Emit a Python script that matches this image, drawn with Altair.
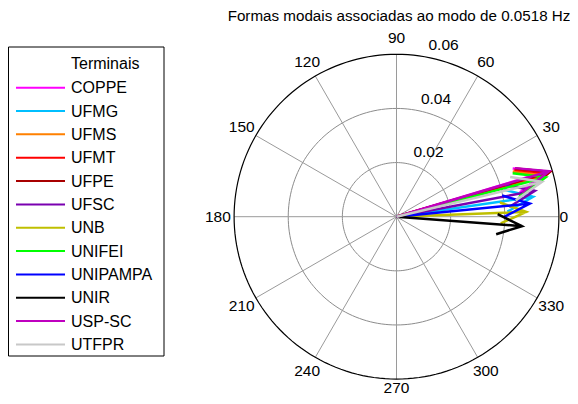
import altair as alt
import numpy as np
import pandas as pd

# ---------------- data ----------------
names = ["COPPE", "UFMG", "UFMS", "UFMT", "UFPE", "UFSC", "UNB", "UNIFEI",
         "UNIPAMPA", "UNIR", "USP-SC", "UTFPR"]
colors = ["#ff00ff", "#00bfff", "#ff8000", "#ff0000", "#a80000", "#7a00b0",
          "#bfbf00", "#00ff00", "#0000ff", "#000000", "#bf00bf", "#c8c8c8"]
magnitudes = [0.0578, 0.0510, 0.0573, 0.0583, 0.0590, 0.0520, 0.0480, 0.0570,
              0.0495, 0.0465, 0.0588, 0.0553]
angles_deg = [16.8, 8.3, 15.5, 16.0, 16.3, 10.6, 2.1, 14.8, 5.6, -4.3, 16.6, 13.5]
angle_ticks = [0, 30, 60, 90, 120, 150, 180, 210, 240, 270, 300, 330]
ring_values = [0.02, 0.04, 0.06]
ring_labels = ["0.02", "0.04", "0.06"]
title_text = "Formas modais associadas ao modo de 0.0518 Hz"
legend_title = "Terminais"

FONT = "Liberation Sans"
RMAX = ring_values[-1]

# ---------------- derived tables ----------------
rows = []
for n, m, a in zip(names, magnitudes, angles_deg):
    z = m * np.exp(1j * np.deg2rad(a))
    pts = [0, z, z * (0.8 + 0.08j), z, z * (0.8 - 0.08j)]
    for k, p in enumerate(pts):
        rows.append({"name": n, "k": k, "x": p.real, "y": p.imag})
arrows = pd.DataFrame(rows)

ring_rows = []
for r in ring_values:
    for k, t in enumerate(np.linspace(0, 2 * np.pi, 181)):
        ring_rows.append({"r": r, "k": k, "x": r * np.cos(t), "y": r * np.sin(t)})
rings = pd.DataFrame(ring_rows)
inner_rings = rings[rings.r < RMAX]
outer_ring = rings[rings.r == RMAX]

spokes = pd.DataFrame({
    "x": [RMAX * np.cos(np.deg2rad(a)) for a in angle_ticks[:6]],
    "y": [RMAX * np.sin(np.deg2rad(a)) for a in angle_ticks[:6]],
    "x2": [-RMAX * np.cos(np.deg2rad(a)) for a in angle_ticks[:6]],
    "y2": [-RMAX * np.sin(np.deg2rad(a)) for a in angle_ticks[:6]],
})

tick_df = pd.DataFrame({
    "label": [str(a) for a in angle_ticks],
    "x": [1.1 * RMAX * np.cos(np.deg2rad(a)) for a in angle_ticks],
    "y": [1.1 * RMAX * np.sin(np.deg2rad(a)) for a in angle_ticks],
})
tick_main = tick_df[~tick_df.label.isin(["0", "270"])]
tick_zero = tick_df[tick_df.label == "0"]
tick_bottom = tick_df[tick_df.label == "270"]

rlab_df = pd.DataFrame({
    "label": ring_labels,
    "x": [(r + RMAX / 60) * np.cos(np.deg2rad(82)) for r in ring_values],
    "y": [(r + RMAX / 60) * np.sin(np.deg2rad(82)) for r in ring_values],
})

legend_df = pd.DataFrame({"name": names, "color": colors})
one = pd.DataFrame({"t": [title_text], "lt": [legend_title]})

# ---------------- scales ----------------
xs = alt.Scale(domain=[-RMAX, RMAX], range=[226.1, 550.9], nice=False, zero=False)
ys = alt.Scale(domain=[-RMAX, RMAX], range=[371.1, 46.3], nice=False, zero=False)
X = lambda f="x": alt.X(f"{f}:Q", scale=xs, axis=None)
Y = lambda f="y": alt.Y(f"{f}:Q", scale=ys, axis=None)
cscale = alt.Scale(domain=names, range=colors)
tstyle = dict(font=FONT, fontSize=15.5, color="#000000")

inner = alt.Chart(inner_rings).mark_line(color="#8c8c8c", strokeWidth=1).encode(
    x=X(), y=Y(), detail="r:N", order="k:Q")
outer = alt.Chart(outer_ring).mark_line(color="#000000", strokeWidth=1.2).encode(
    x=X(), y=Y(), detail="r:N", order="k:Q")
spk = alt.Chart(spokes).mark_rule(color="#9a9a9a", strokeWidth=1).encode(
    x=X(), y=Y(), x2="x2:Q", y2="y2:Q")
ticks = alt.Chart(tick_main).mark_text(align="center", baseline="middle",
                                       **tstyle).encode(
    x=X(), y=Y(), text="label:N")
ticks_z = alt.Chart(tick_zero).mark_text(align="right", baseline="middle",
                                         dx=-7, **tstyle).encode(
    x=X(), y=Y(), text="label:N")
ticks_b = alt.Chart(tick_bottom).mark_text(align="center", baseline="middle",
                                           dy=-7.5, **tstyle).encode(
    x=X(), y=Y(), text="label:N")
rlabs = alt.Chart(rlab_df).mark_text(align="left", baseline="alphabetic",
                                     dx=9, dy=-3, **tstyle).encode(
    x=X(), y=Y(), text="label:N")
arr = alt.Chart(arrows).mark_line(strokeWidth=2.5, strokeJoin="miter",
                                  strokeCap="butt").encode(
    x=X(), y=Y(), order="k:Q",
    color=alt.Color("name:N", scale=cscale, legend=None))

title = alt.Chart(one).mark_text(font=FONT, fontSize=15.2, color="#000000",
                                 align="center", baseline="alphabetic").encode(
    x=alt.value(391), y=alt.value(12.6), text="t:N")

# legend
ls = alt.Scale(type="point", domain=names, range=[79.7, 336.4], padding=0)
box = alt.Chart(one).mark_rect(fillOpacity=0, stroke="#000000", strokeWidth=1).encode(
    x=alt.value(0.5), x2=alt.value(156), y=alt.value(39), y2=alt.value(348))
lrule = alt.Chart(legend_df).mark_rule(strokeWidth=2).encode(
    y=alt.Y("name:N", scale=ls, axis=None),
    x=alt.value(8), x2=alt.value(57),
    color=alt.Color("name:N", scale=cscale, legend=None))
ltext = alt.Chart(legend_df).mark_text(font=FONT, fontSize=16, color="#000000",
                                       align="left", baseline="alphabetic",
                                       dy=5.6).encode(
    y=alt.Y("name:N", scale=ls, axis=None), x=alt.value(63), text="name:N")
ltitle = alt.Chart(one).mark_text(font=FONT, fontSize=16, color="#000000",
                                  align="left", baseline="alphabetic").encode(
    x=alt.value(63), y=alt.value(61.3), text="lt:N")

chart = alt.layer(
    inner, spk, outer, ticks, ticks_z, ticks_b, rlabs, arr, title,
    box, lrule, ltext, ltitle
).resolve_scale(
    x="independent", y="independent", color="independent"
).properties(
    width=562, height=388,
    autosize=alt.AutoSizeParams(type="none"),
    padding=0,
    background="#ffffff",
).configure_view(stroke=None)

chart.save("out.html", embed_options={"renderer": "svg", "actions": False})
